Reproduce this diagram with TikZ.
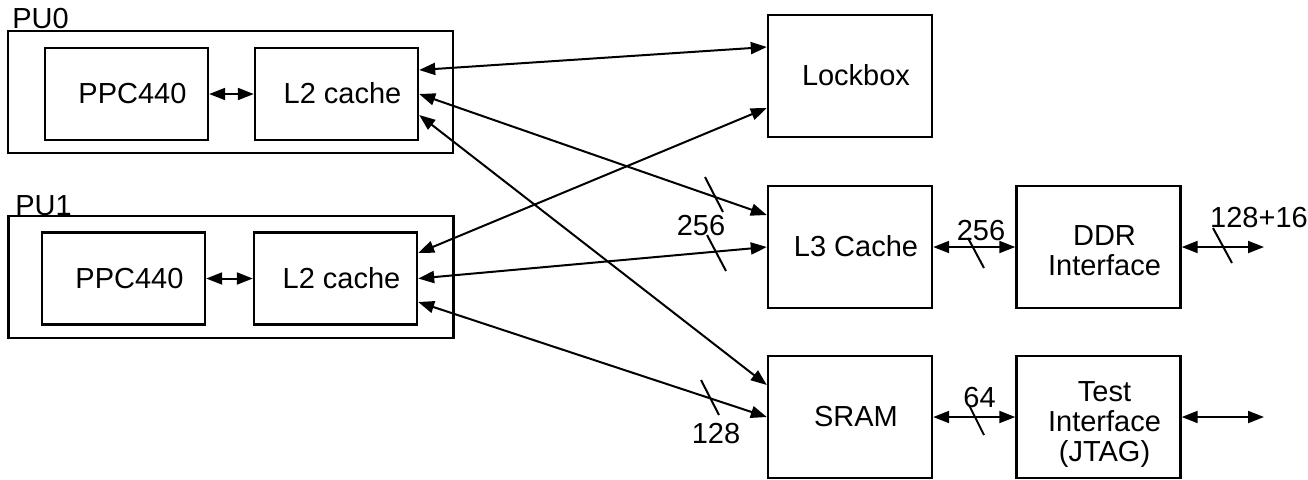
\documentclass[tikz,border=0pt]{standalone}
\usepackage{fontspec}
\setmainfont{Liberation Sans}
\usetikzlibrary{arrows.meta}
\begin{document}
\begin{tikzpicture}[x=0.5pt,y=-0.5pt,
	font=\fontsize{14.5}{15}\selectfont,
	unit/.style={draw,line width=1.2pt,minimum width=222.5pt,minimum height=61pt},
	blk/.style={draw,line width=1.2pt,minimum width=81.5pt,minimum height=46pt,
		text height=1em,execute at begin node=\hspace*{6pt}},
	big/.style={draw,line width=1.2pt,minimum width=82pt,minimum height=61pt},
	bigone/.style={big,text height=1em,execute at begin node=\hspace*{6pt}},
	bus/.style={line width=1pt,{Triangle[length=8pt,width=6pt]}-{Triangle[length=8pt,width=6pt]}},
	tick/.style={line width=1pt},
	num/.style={anchor=base,inner sep=0}]
\useasboundingbox (0,0) rectangle (1308,479);
% processing units
\node[unit] (pu0) at (230.5,92) {};
\node[num,anchor=base west] (pu0lbl) at (12,28) {PU0};
\node[blk] (ppc0) at (126.5,94) {PPC440};
\node[blk] (l2a) at (336.5,94) {L2 cache};
\node[unit] (pu1) at (231,277) {};
\node[num,anchor=base west] (pu1lbl) at (15,215) {PU1};
\node[blk] (ppc1) at (123.5,278.5) {PPC440};
\node[blk] (l2b) at (335.5,278.5) {L2 cache};
% shared blocks
\node[bigone] (lock) at (850,76) {Lockbox};
\node[bigone] (l3) at (850,247) {L3 Cache};
\node[bigone] (sram) at (850,417) {SRAM};
\node[big,align=center] (ddr) at (1098.5,247) {\hspace*{6pt}\rule{0pt}{0.95em}DDR\\\hspace*{6pt}Interface};
\node[big,align=center] (test) at (1098.5,417) {\hspace*{6pt}\rule{0pt}{1.2em}Test\\\hspace*{6pt}Interface\\\hspace*{6pt}(JTAG)};
\coordinate (ddrout) at (1264,247);
\coordinate (testout) at (1264,417);
% buses
\draw[bus] (ppc0) -- (l2a);
\draw[bus] (ppc1) -- (l2b);
\draw[bus] ([yshift=12pt]l2a.east) -- ([yshift=14.5pt]lock.west);
\draw[bus] (l2a.east) -- ([yshift=16pt]l3.west);
\draw[bus] ([yshift=-10.5pt]l2a.east) -- ([yshift=16pt]sram.west);
\draw[bus] ([yshift=12.75pt]l2b.east) -- ([yshift=-16pt]lock.west);
\draw[bus] (l2b.east) -- (l3.west);
\draw[bus] ([yshift=-11.75pt]l2b.east) -- (sram.west);
\draw[bus] (l3) -- (ddr);
\draw[bus] (sram) -- (test);
\draw[bus] (ddr) -- (ddrout);
\draw[bus] (test) -- (testout);
% bus widths
\draw[tick] (705,177) -- (723,212);
\draw[tick] (707,235) -- (726,271);
\draw[tick] (701,380) -- (719,415);
\draw[tick] (968,238) -- (984,268);
\draw[tick] (1213,228) -- (1232,263);
\draw[tick] (969,405) -- (984,435);
\node[num] (w1) at (701,235) {256};
\node[num] (w2) at (716,443) {128};
\node[num] (w3) at (981,240) {256};
\node[num] (w4) at (1259,227) {128+16};
\node[num] (w5) at (979.5,407) {64};
\end{tikzpicture}
\end{document}
